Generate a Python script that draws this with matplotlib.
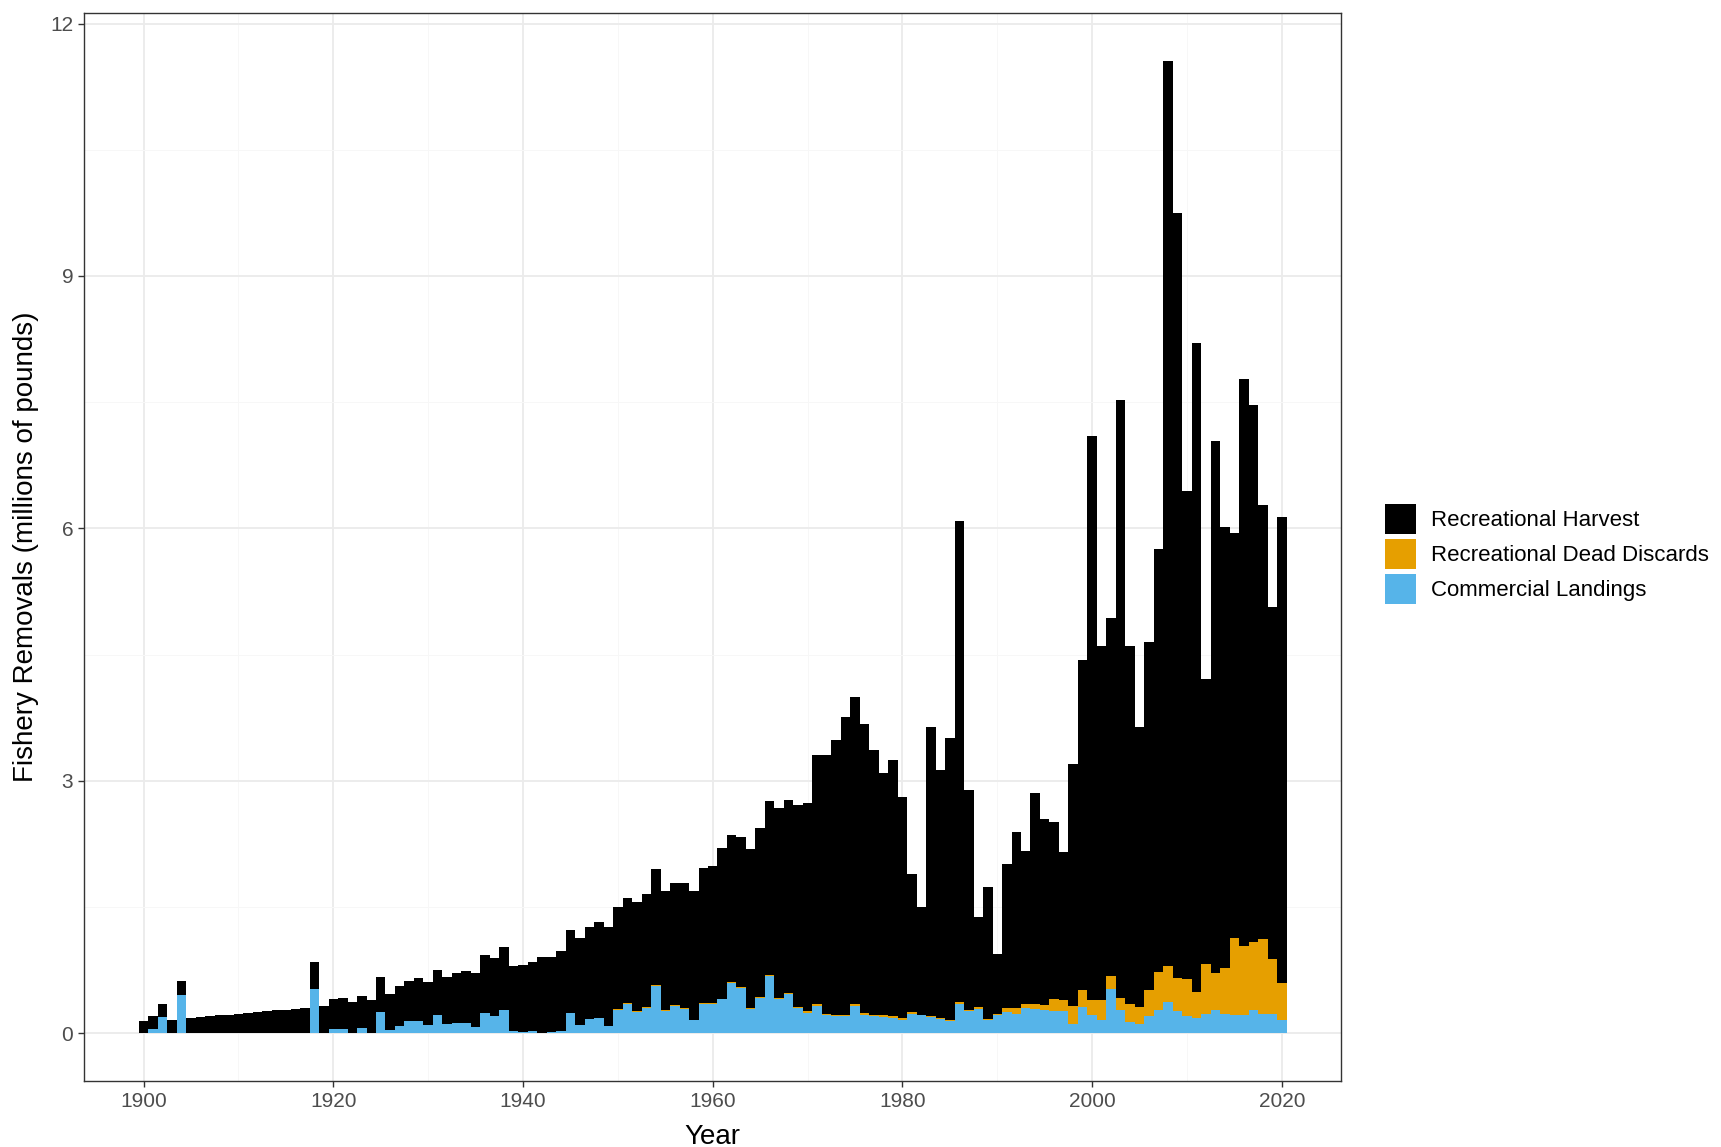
import numpy as np
import matplotlib
matplotlib.use("Agg")
import matplotlib.pyplot as plt
from matplotlib.patches import Patch

plt.rcParams['font.family'] = ['Liberation Sans', 'DejaVu Sans']

years = np.arange(1900, 2021)

# total removals (top of each stacked bar), millions of pounds
total = [
    0.14, 0.20, 0.34, 0.16, 0.62, 0.18, 0.19, 0.20, 0.21, 0.22,   # 1900s
    0.23, 0.24, 0.25, 0.26, 0.27, 0.28, 0.29, 0.30, 0.85, 0.32,   # 1910s
    0.40, 0.42, 0.37, 0.44, 0.39, 0.67, 0.47, 0.56, 0.62, 0.65,   # 1920s
    0.61, 0.75, 0.67, 0.71, 0.74, 0.71, 0.93, 0.89, 1.02, 0.80,   # 1930s
    0.81, 0.85, 0.90, 0.91, 0.98, 1.23, 1.13, 1.26, 1.32, 1.26,   # 1940s
    1.50, 1.61, 1.56, 1.65, 1.95, 1.69, 1.79, 1.79, 1.69, 1.96,   # 1950s
    1.99, 2.20, 2.36, 2.33, 2.19, 2.44, 2.76, 2.67, 2.77, 2.71,   # 1960s
    2.74, 3.31, 3.30, 3.48, 3.76, 3.99, 3.67, 3.37, 3.09, 3.25,   # 1970s
    2.81, 1.89, 1.50, 3.64, 3.13, 3.51, 6.09, 2.89, 1.38, 1.74,   # 1980s
    0.94, 2.01, 2.39, 2.17, 2.85, 2.55, 2.51, 2.15, 3.20, 4.44,   # 1990s
    7.10, 4.60, 4.93, 7.52, 4.60, 3.64, 4.65, 5.76, 11.55, 9.75,  # 2000s
    6.44, 8.20, 4.21, 7.04, 6.02, 5.94, 7.77, 7.47, 6.28, 5.07,   # 2010s
    6.13,
]

commercial = [
    0.00, 0.05, 0.19, 0.00, 0.45, 0.00, 0.00, 0.00, 0.00, 0.00,
    0.00, 0.00, 0.00, 0.00, 0.00, 0.00, 0.00, 0.00, 0.53, 0.00,
    0.05, 0.05, 0.00, 0.06, 0.00, 0.25, 0.04, 0.09, 0.14, 0.14,
    0.10, 0.21, 0.11, 0.12, 0.12, 0.07, 0.24, 0.20, 0.28, 0.02,
    0.01, 0.02, 0.00, 0.01, 0.02, 0.24, 0.10, 0.17, 0.18, 0.08,
    0.27, 0.34, 0.25, 0.30, 0.56, 0.26, 0.32, 0.29, 0.15, 0.35,
    0.35, 0.40, 0.60, 0.54, 0.29, 0.42, 0.68, 0.41, 0.47, 0.30,
    0.24, 0.32, 0.21, 0.20, 0.20, 0.32, 0.21, 0.20, 0.19, 0.18,
    0.16, 0.23, 0.21, 0.19, 0.17, 0.14, 0.34, 0.26, 0.29, 0.15,
    0.21, 0.25, 0.23, 0.30, 0.29, 0.28, 0.26, 0.26, 0.11, 0.31,
    0.22, 0.15, 0.53, 0.27, 0.13, 0.11, 0.20, 0.27, 0.37, 0.26,
    0.20, 0.18, 0.23, 0.27, 0.23, 0.22, 0.21, 0.27, 0.23, 0.23,
    0.16,
]

dead_discards = [
    0.00, 0.00, 0.00, 0.00, 0.00, 0.00, 0.00, 0.00, 0.00, 0.00,
    0.00, 0.00, 0.00, 0.00, 0.00, 0.00, 0.00, 0.00, 0.00, 0.00,
    0.00, 0.00, 0.00, 0.00, 0.00, 0.00, 0.00, 0.00, 0.00, 0.00,
    0.00, 0.00, 0.00, 0.00, 0.00, 0.00, 0.00, 0.00, 0.00, 0.00,
    0.00, 0.00, 0.00, 0.00, 0.00, 0.00, 0.00, 0.00, 0.00, 0.00,
    0.02, 0.02, 0.01, 0.01, 0.01, 0.01, 0.01, 0.01, 0.01, 0.01,
    0.01, 0.01, 0.01, 0.01, 0.01, 0.01, 0.01, 0.01, 0.01, 0.01,
    0.02, 0.02, 0.02, 0.02, 0.02, 0.03, 0.03, 0.02, 0.02, 0.02,
    0.02, 0.02, 0.01, 0.01, 0.01, 0.01, 0.03, 0.02, 0.02, 0.02,
    0.02, 0.05, 0.07, 0.04, 0.06, 0.05, 0.15, 0.13, 0.21, 0.20,
    0.17, 0.24, 0.15, 0.15, 0.22, 0.20, 0.31, 0.46, 0.43, 0.40,
    0.44, 0.31, 0.59, 0.44, 0.54, 0.91, 0.82, 0.81, 0.89, 0.65,
    0.44,
]

total = np.array(total)
commercial = np.array(commercial)
dead_discards = np.array(dead_discards)
harvest = total - commercial - dead_discards

c_harvest = '#000000'
c_discards = '#E69F00'
c_comm = '#56B4E9'

fig = plt.figure(figsize=(17.21, 11.47), dpi=100)
ax = fig.add_axes([0.049, 0.0575, 0.73, 0.9315])

ax.bar(years, commercial, width=1.0, color=c_comm, linewidth=0, antialiased=False, zorder=2)
ax.bar(years, dead_discards, width=1.0, bottom=commercial, color=c_discards,
       linewidth=0, antialiased=False, zorder=2)
ax.bar(years, harvest, width=1.0, bottom=commercial + dead_discards, color=c_harvest,
       linewidth=0, antialiased=False, zorder=2)

ax.set_xlim(1893.75, 2026.2)
ax.set_ylim(-0.57, 12.13)
ax.set_xticks([1900, 1920, 1940, 1960, 1980, 2000, 2020])
ax.set_yticks([0, 3, 6, 9, 12])
ax.set_xticks([1910, 1930, 1950, 1970, 1990, 2010], minor=True)
ax.set_yticks([1.5, 4.5, 7.5, 10.5], minor=True)

ax.grid(True, which='major', color='#EBEBEB', linewidth=1.3, zorder=0)
ax.grid(True, which='minor', color='#F7F7F7', linewidth=0.7, zorder=0)
ax.set_axisbelow(True)
ax.tick_params(which='minor', length=0)
ax.tick_params(which='major', length=4, width=1, color='#333333',
               labelsize=15, labelcolor='#4D4D4D', pad=4)

for s in ax.spines.values():
    s.set_color('#333333')
    s.set_linewidth(1)

ax.set_xlabel('Year', fontsize=20, color='black', labelpad=9)
ax.set_ylabel('Fishery Removals (millions of pounds)', fontsize=20, color='black', labelpad=8)

handles = [Patch(facecolor=c_harvest, edgecolor='none'),
           Patch(facecolor=c_discards, edgecolor='none'),
           Patch(facecolor=c_comm, edgecolor='none')]
labels = ['Recreational Harvest', 'Recreational Dead Discards', 'Commercial Landings']
fig.legend(handles, labels, loc='center left', bbox_to_anchor=(0.805, 0.517),
           frameon=False, fontsize=16, handlelength=1.36, handleheight=1.7,
           labelspacing=0.22, handletextpad=0.68, borderpad=0, borderaxespad=0)

fig.savefig('out.png', dpi=100)
